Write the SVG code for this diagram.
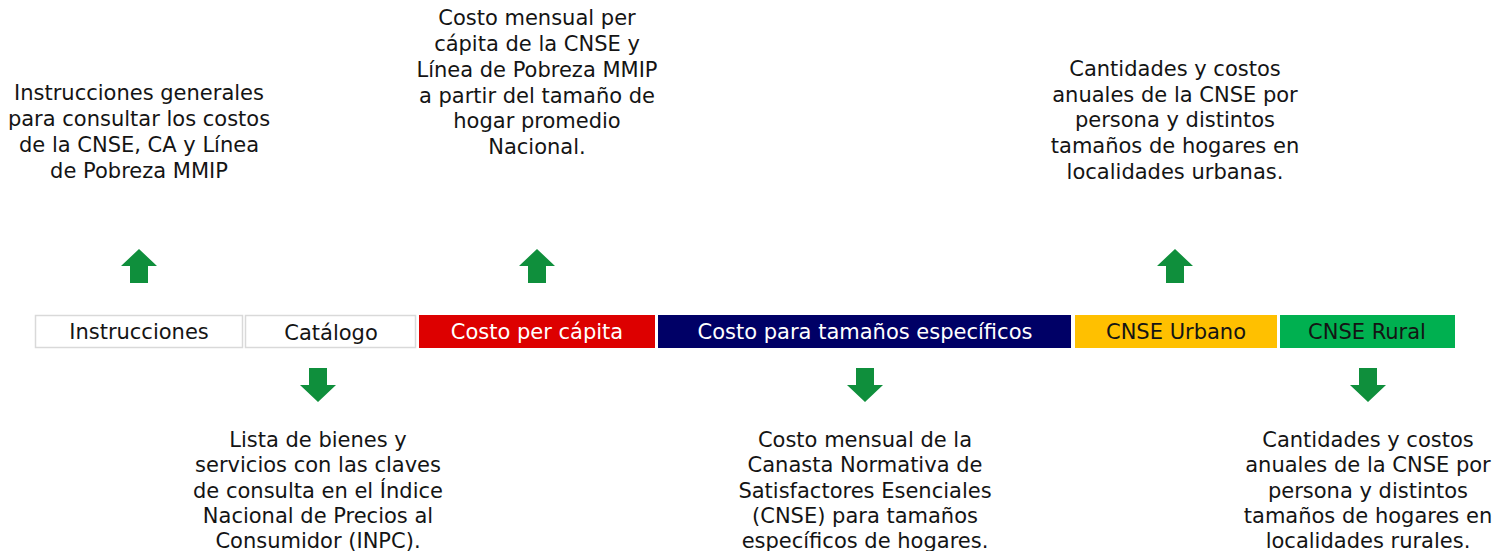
<svg xmlns="http://www.w3.org/2000/svg" width="1499" height="551" viewBox="0 0 1499 551">
<style>
text{font-family:"DejaVu Sans","Open Sans",sans-serif;font-size:21px;fill:#141414;text-anchor:middle}
.lbl{font-size:21px}
.w{fill:#ffffff}
.box{stroke:none}
.arrow{fill:#0f8f3c}
</style>
<defs>
<path id="up" d="M0,-17 L18,0 L9,0 L9,17 L-9,17 L-9,0 L-18,0 Z"/>
<path id="down" d="M0,17 L18,0 L9,0 L9,-17 L-9,-17 L-9,0 L-18,0 Z"/>
</defs>
<rect width="1499" height="551" fill="#ffffff"/>
<g id="n-instrucciones">
<rect x="35.5" y="315.5" width="207" height="32" fill="#ffffff" stroke="#d9d9d9" stroke-width="1.5"/>
<text class="lbl" x="139" y="339">Instrucciones</text>
</g>
<g id="n-catalogo">
<rect x="245.5" y="315.5" width="170" height="32" fill="#ffffff" stroke="#d9d9d9" stroke-width="1.5"/>
<text class="lbl" x="331" y="340">Catálogo</text>
</g>
<g id="n-percapita">
<rect class="box" x="419" y="315" width="236" height="33" fill="#dd0000"/>
<text class="lbl w" x="537" y="339">Costo per cápita</text>
</g>
<g id="n-tamanos">
<rect class="box" x="658" y="315" width="413" height="33" fill="#000066"/>
<text class="lbl w" x="865" y="339">Costo para tamaños específicos</text>
</g>
<g id="n-urbano">
<rect class="box" x="1075" y="315" width="202" height="33" fill="#ffc000"/>
<text class="lbl" x="1176" y="339">CNSE Urbano</text>
</g>
<g id="n-rural">
<rect class="box" x="1280" y="315" width="175" height="33" fill="#00b050"/>
<text class="lbl" x="1367" y="339">CNSE Rural</text>
</g>
<g id="connectors">
<use href="#up" class="arrow" x="139" y="266"/>
<use href="#up" class="arrow" x="537" y="266"/>
<use href="#up" class="arrow" x="1175" y="266"/>
<use href="#down" class="arrow" x="318" y="385"/>
<use href="#down" class="arrow" x="865" y="385"/>
<use href="#down" class="arrow" x="1368" y="385"/>
</g>
<g id="t-instrucciones">
<text x="139" y="100">Instrucciones generales</text>
<text x="139" y="126">para consultar los costos</text>
<text x="139" y="152">de la CNSE, CA y Línea</text>
<text x="139" y="178">de Pobreza MMIP</text>
</g>
<g id="t-percapita">
<text x="537" y="25">Costo mensual per</text>
<text x="537" y="51">cápita de la CNSE y</text>
<text x="537" y="77">Línea de Pobreza MMIP</text>
<text x="537" y="103">a partir del tamaño de</text>
<text x="537" y="128">hogar promedio</text>
<text x="537" y="154">Nacional.</text>
</g>
<g id="t-urbano">
<text x="1175" y="76">Cantidades y costos</text>
<text x="1175" y="102">anuales de la CNSE por</text>
<text x="1175" y="127">persona y distintos</text>
<text x="1175" y="153">tamaños de hogares en</text>
<text x="1175" y="179">localidades urbanas.</text>
</g>
<g id="t-catalogo">
<text x="318" y="447">Lista de bienes y</text>
<text x="318" y="472">servicios con las claves</text>
<text x="318" y="498">de consulta en el Índice</text>
<text x="318" y="523">Nacional de Precios al</text>
<text x="318" y="548">Consumidor (INPC).</text>
</g>
<g id="t-tamanos">
<text x="865" y="447">Costo mensual de la</text>
<text x="865" y="472">Canasta Normativa de</text>
<text x="865" y="498">Satisfactores Esenciales</text>
<text x="865" y="523">(CNSE) para tamaños</text>
<text x="865" y="548">específicos de hogares.</text>
</g>
<g id="t-rural">
<text x="1368" y="447">Cantidades y costos</text>
<text x="1368" y="472">anuales de la CNSE por</text>
<text x="1368" y="498">persona y distintos</text>
<text x="1368" y="523">tamaños de hogares en</text>
<text x="1368" y="548">localidades rurales.</text>
</g>
</svg>
